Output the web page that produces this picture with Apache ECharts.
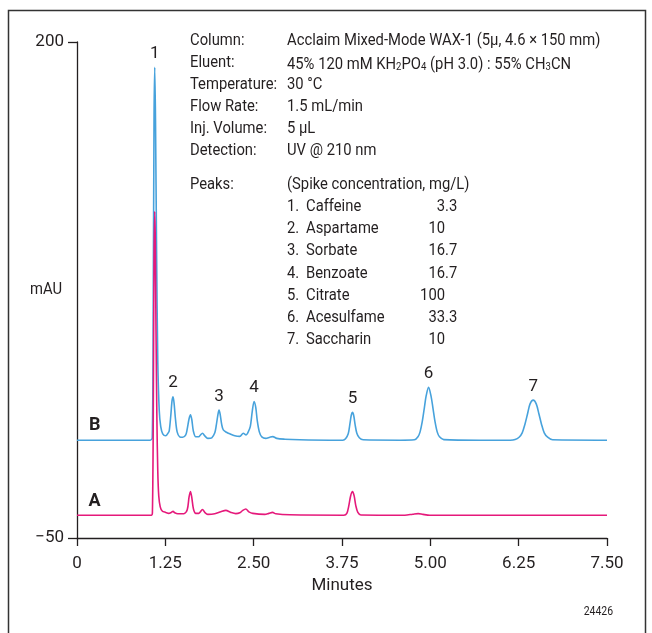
<!DOCTYPE html>
<html>
<head>
<meta charset="utf-8">
<script src="https://cdn.jsdelivr.net/npm/echarts@6/dist/echarts.min.js"></script>
<style>
  html, body { margin: 0; padding: 0; background: #fff; }
  #chart { width: 652px; height: 633px; }
</style>
</head>
<body>
<div id="chart"></div>
<script>
const chart = echarts.init(document.getElementById('chart'))

const FONT = "Roboto, 'Liberation Sans', sans-serif"
const INK = '#231f20'
const SQUEEZE = 0.87 // the original type is condensed

// axis ticks
const xTicks = [0, 1.25, 2.5, 3.75, 5, 6.25, 7.5]
const yTicks = [-50, 200]

// trace B (spiked sample), [minutes, mAU]
const traceB = [
  [0, -0.7], [1.036, -0.7], [1.065, 0.5], [1.079, 69.7], [1.090, 160.6], [1.100, 187.2], [1.111, 160.6],
  [1.126, 95], [1.143, 39.4], [1.164, 14.1], [1.185, 6.1], [1.213, 2.5], [1.256, 1.5], [1.291, 3],
  [1.305, 4], [1.327, 11.6], [1.345, 19.2], [1.359, 21.2], [1.373, 18.2], [1.393, 10.1], [1.417, 3.5],
  [1.453, 1.0], [1.496, 0.8], [1.539, 2.0], [1.560, 5], [1.586, 10.1], [1.606, 12.1], [1.625, 9.6],
  [1.646, 4], [1.681, 1], [1.723, 1], [1.744, 1.8], [1.776, 2.8], [1.808, 1.5], [1.851, 0.2],
  [1.907, 0.5], [1.950, 3.0], [1.970, 6.6], [1.996, 12.6], [2.010, 14.5], [2.027, 12.1], [2.048, 7.1],
  [2.070, 4.5], [2.115, 3.3], [2.162, 2.5], [2.233, 1.5], [2.304, 1.2], [2.353, 2.8], [2.393, 2],
  [2.417, 3], [2.452, 6.1], [2.481, 14.1], [2.506, 18.8], [2.530, 15.7], [2.551, 9.1], [2.580, 3.5],
  [2.615, 1.0], [2.672, 0.2], [2.729, 0.8], [2.771, 1.1], [2.827, 0.2], [2.941, -0.2], [3.153, -0.5],
  [3.578, -0.7], [3.762, -0.7], [3.800, 0.0], [3.838, 2.5], [3.862, 7.5], [3.882, 12], [3.899, 13.3],
  [3.917, 11.5], [3.936, 7], [3.960, 2.8], [3.995, 0.5], [4.050, -0.5], [4.569, -0.7], [4.775, -0.5],
  [4.825, 1.0], [4.855, 3.5], [4.885, 8.5], [4.915, 15.5], [4.940, 21.5], [4.975, 25.9], [5.010, 21.5],
  [5.037, 15.5], [5.067, 8.5], [5.097, 3.5], [5.130, 1.0], [5.190, -0.4], [5.700, -0.7], [6.130, -0.7],
  [6.200, -0.4], [6.256, 0.8], [6.300, 3.0], [6.340, 7.5], [6.375, 12.5], [6.410, 17.5], [6.456, 19.5],
  [6.500, 17.5], [6.537, 12.5], [6.572, 7.5], [6.612, 3.0], [6.660, 0.8], [6.730, -0.5], [7.5, -0.7]
]

// trace A (unspiked sample)
const traceA = [
  [0, -38.5], [1.051, -38.5], [1.067, -37.3], [1.079, 9.1], [1.090, 89.9], [1.100, 114.6], [1.108, 100],
  [1.118, 54.5], [1.131, 9.1], [1.143, -16.2], [1.157, -28.8], [1.178, -34.3], [1.206, -36.4],
  [1.256, -37.1], [1.298, -37.6], [1.334, -37.1], [1.359, -36.6], [1.383, -37.3], [1.426, -37.8],
  [1.511, -37.8], [1.560, -35.8], [1.586, -29.3], [1.606, -26.6], [1.625, -29.8], [1.648, -35.4],
  [1.681, -37.6], [1.723, -37.6], [1.776, -35.6], [1.808, -37.1], [1.851, -38.1], [1.950, -37.8],
  [2.035, -36.8], [2.106, -36.1], [2.176, -37.1], [2.247, -37.7], [2.304, -37.3], [2.346, -36.1],
  [2.389, -35.4], [2.432, -36.8], [2.488, -37.6], [2.658, -38.1], [2.715, -37.6], [2.767, -37.1],
  [2.813, -37.8], [3.012, -38.3], [3.776, -38.5], [3.818, -37.6], [3.846, -33.8], [3.872, -28.8],
  [3.899, -26.6], [3.922, -28.8], [3.946, -33.8], [3.974, -37.1], [4.017, -38.4], [4.639, -38.5],
  [4.752, -38.0], [4.828, -37.7], [4.895, -38.1], [4.994, -38.5], [7.5, -38.5]
]

// peak numbers over trace B
const peakNumbers = ['1', '2', '3', '4', '5', '6', '7']
const peakTimes = [1.100, 1.359, 2.010, 2.506, 3.899, 4.975, 6.456]
const peakHeights = [187.2, 21.2, 14.5, 18.8, 13.3, 25.9, 19.5]

// trace names and where they sit
const traceNames = ['B', 'A']
const traceLabelTime = 0.25
const traceBaselines = [-0.7, -38.5]

// conditions block
const condLabels = ['Column:', 'Eluent:', 'Temperature:', 'Flow Rate:', 'Inj. Volume:', 'Detection:']
const condValues = [
  'Acclaim Mixed-Mode WAX-1 (5µ, 4.6 × 150 mm)',
  '{n|45% 120 mM KH}{s|2}{n|PO}{s|4}{n| (pH 3.0) : 55% CH}{s|3}{n|CN}',
  '30 °C',
  '1.5 mL/min',
  '5 µL',
  'UV @ 210 nm'
]
const peaksHeader = '(Spike concentration, mg/L)'
const compounds = ['Caffeine', 'Aspartame', 'Sorbate', 'Benzoate', 'Citrate', 'Acesulfame', 'Saccharin']
const concentrations = ['3.3', '10', '16.7', '16.7', '100', '33.3', '10']

const txt = (x, y, text, extra) => ({
  type: 'text', x: x, y: y, scaleX: SQUEEZE, silent: true,
  style: Object.assign({ text: text, fill: INK, font: '17px ' + FONT, textVerticalAlign: 'middle' }, extra || {})
})

const graphics = [
  {
    type: 'rect', silent: true,
    shape: { x: 8.5, y: 10.5, width: 637, height: 650 },
    style: { fill: 'none', stroke: '#333', lineWidth: 1.5 }
  }
]
condLabels.forEach((l, i) => {
  const y = 41 + i * 22
  graphics.push(txt(190, y, l))
  if (i === 1) {
    graphics.push({
      type: 'text', x: 287, y: y - 10, scaleX: SQUEEZE, silent: true,
      style: {
        text: condValues[i], fill: INK,
        rich: {
          n: { fontSize: 17, fontFamily: FONT, fill: INK, lineHeight: 20, verticalAlign: 'bottom' },
          s: { fontSize: 11, fontFamily: FONT, fill: INK, lineHeight: 11, padding: [13, 0, 0, 0], verticalAlign: 'bottom' }
        }
      }
    })
  } else {
    graphics.push(txt(287, y, condValues[i]))
  }
})
graphics.push(txt(190, 185, 'Peaks:'))
graphics.push(txt(287, 185, peaksHeader))
compounds.forEach((c, i) => {
  const y = 207 + i * 22.1
  graphics.push(txt(287, y, (i + 1) + '.'))
  graphics.push(txt(306, y, c))
  const parts = concentrations[i].split('.')
  graphics.push(txt(445, y, parts[0], { textAlign: 'right' }))
  if (parts[1]) graphics.push(txt(445, y, '.' + parts[1], { textAlign: 'left' }))
})
graphics.push(txt(613, 612, '24426', { textAlign: 'right', font: '12px ' + FONT }))
graphics.push(txt(62, 290, 'mAU', { textAlign: 'right' }))

const axisStyle = { color: INK, width: 1.3 }

const option = {
  animation: false,
  grid: { left: 77, right: 45, top: 42, bottom: 95, containLabel: false, outerBoundsMode: 'none' },
  xAxis: {
    type: 'value', min: 0, max: 7.5, interval: 1.25,
    name: 'Minutes', nameLocation: 'middle', nameGap: 27,
    nameTextStyle: { fontSize: 17, color: INK, fontFamily: FONT },
    axisLine: { show: true, onZero: false, lineStyle: axisStyle },
    axisTick: { show: true, length: 8, lineStyle: axisStyle, customValues: xTicks },
    axisLabel: {
      fontSize: 17, color: INK, fontFamily: FONT, margin: 17, customValues: xTicks,
      formatter: v => (v === 0 ? '0' : v.toFixed(2))
    },
    splitLine: { show: false }
  },
  yAxis: {
    type: 'value', min: -50, max: 200, interval: 250,
    axisLine: { show: true, onZero: false, lineStyle: axisStyle },
    axisTick: { show: true, length: 9, lineStyle: axisStyle, customValues: yTicks },
    axisLabel: {
      fontSize: 17, color: INK, fontFamily: FONT, margin: 13, customValues: yTicks,
      formatter: v => String(v).replace('-', '\u2212')
    },
    splitLine: { show: false }
  },
  series: [
    {
      name: 'B', type: 'line', data: traceB, showSymbol: false, smooth: 0.3,
      lineStyle: { color: '#47a2dc', width: 1.6 }, z: 2,
      markPoint: {
        symbol: 'circle', symbolSize: 0, silent: true,
        label: { show: true, position: 'top', distance: 5, color: INK, fontSize: 17, fontFamily: FONT, formatter: p => p.name },
        data: peakNumbers.map((n, i) => ({ name: n, coord: [peakTimes[i], peakHeights[i]] })).concat([
          { name: traceNames[0], coord: [traceLabelTime, traceBaselines[0]],
            label: { fontWeight: 'bold', fontSize: 18, distance: 6 } }
        ])
      }
    },
    {
      name: 'A', type: 'line', data: traceA, showSymbol: false, smooth: 0.3,
      lineStyle: { color: '#e5197b', width: 1.6 }, z: 3,
      markPoint: {
        symbol: 'circle', symbolSize: 0, silent: true,
        label: { show: true, position: 'top', distance: 5, color: INK, fontSize: 18, fontWeight: 'bold', fontFamily: FONT, formatter: p => p.name },
        data: [{ name: traceNames[1], coord: [traceLabelTime, traceBaselines[1]] }]
      }
    }
  ],
  graphic: graphics
}

chart.setOption(option)
</script>
</body>
</html>
